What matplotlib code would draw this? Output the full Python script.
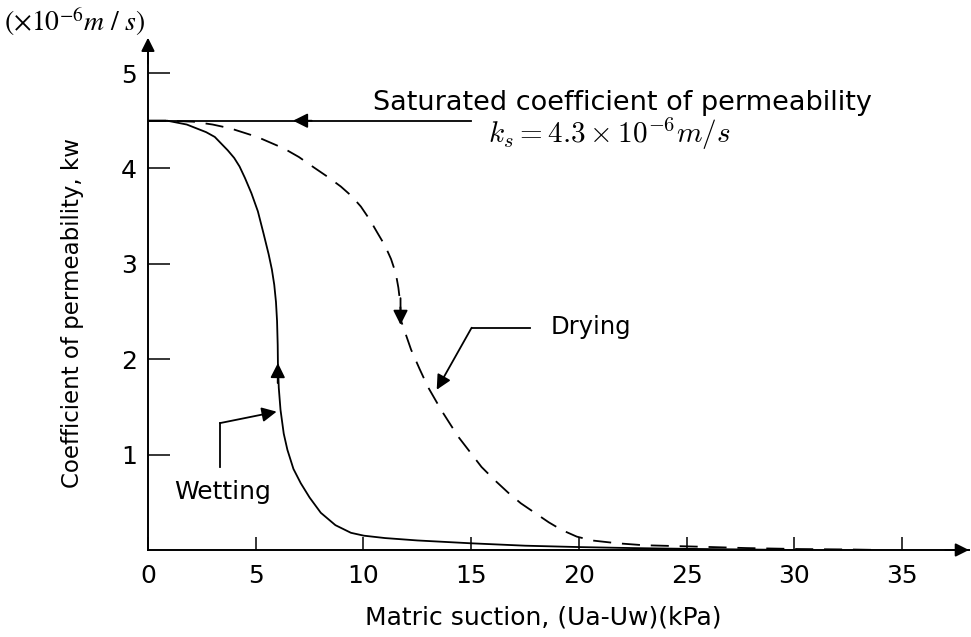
import matplotlib
matplotlib.use("Agg")
import matplotlib.pyplot as plt

# curves (x in kPa, y in 1e-6 m/s)
wet_x = [0, 0.9, 1.8, 2.7, 3.1, 3.4, 3.7, 4.0, 4.25, 4.5, 4.8, 5.1, 5.36, 5.6, 5.75, 5.86,
         5.94, 5.99, 6.02, 6.03, 6.07, 6.15, 6.3, 6.47, 6.75, 7.09, 7.5, 8.02, 8.7, 9.42,
         10.02, 11, 12.5, 15, 17.5, 20.1, 22.5, 25, 27.5, 30]
wet_y = [4.5, 4.5, 4.46, 4.38, 4.33, 4.26, 4.19, 4.11, 4.02, 3.90, 3.74, 3.55, 3.32, 3.10, 2.94, 2.78,
         2.60, 2.40, 2.15, 1.96, 1.70, 1.47, 1.22, 1.05, 0.85, 0.70, 0.55, 0.39, 0.26, 0.18,
         0.15, 0.125, 0.10, 0.07, 0.045, 0.03, 0.02, 0.012, 0.006, 0.0]

dry_x = [0, 1, 2.1, 3.0, 3.82, 5.07, 6.3, 7.0, 7.7, 8.35, 8.95, 9.45, 9.88, 10.3, 10.66, 11.0,
         11.28, 11.5, 11.62, 11.7, 11.75, 12.21, 12.6, 12.99, 13.6, 14.39, 15.48, 16.1, 16.72,
         17.3, 17.95, 18.6, 19.2, 19.9, 20.6, 21.8, 23, 25.5, 27.8, 30.2, 32.7, 34]
dry_y = [4.5, 4.5, 4.49, 4.46, 4.42, 4.33, 4.21, 4.12, 4.01, 3.91, 3.81, 3.71, 3.6, 3.46, 3.32, 3.19,
         3.05, 2.9, 2.75, 2.6, 2.4, 2.10, 1.9, 1.71, 1.47, 1.19, 0.87, 0.73, 0.60,
         0.49, 0.39, 0.29, 0.21, 0.14, 0.10, 0.07, 0.05, 0.035, 0.02, 0.01, 0.005, 0.0]

x_ticks = [0, 5, 10, 15, 20, 25, 30, 35]
y_ticks = [1, 2, 3, 4, 5]
ks = 4.5

plt.rcParams['font.family'] = ['DejaVu Sans']

fig = plt.figure(figsize=(9.71, 6.37), dpi=100)
ax = fig.add_axes([0.1524, 0.1366, 0.8455, 0.7937])
ax.set_xlim(0, 38.1)
ax.set_ylim(0, 5.3)

for s in ['top', 'right']:
    ax.spines[s].set_visible(False)
for s in ['left', 'bottom']:
    ax.spines[s].set_linewidth(1.4)

ax.set_xticks(x_ticks)
ax.set_yticks(y_ticks)
ax.tick_params(axis='y', direction='in', length=16, width=1.1, pad=8, labelsize=18)
ax.tick_params(axis='x', direction='in', length=9.5, width=1.1, pad=10, labelsize=18)

# axis arrow heads
ax.annotate('', xy=(38.1, 0), xytext=(37, 0), annotation_clip=False,
            arrowprops=dict(arrowstyle='-|>', mutation_scale=20, lw=1.4, color='k',
                            shrinkA=0, shrinkB=0))
ax.annotate('', xy=(0, 5.37), xytext=(0, 5.1), annotation_clip=False,
            arrowprops=dict(arrowstyle='-|>', mutation_scale=20, lw=1.4, color='k',
                            shrinkA=0, shrinkB=0))

ax.plot(wet_x, wet_y, color='k', lw=1.3)
ax.plot(dry_x, dry_y, color='k', lw=1.3, dashes=(10, 6))

# arrows on curves
arr = dict(arrowstyle='-|>', mutation_scale=22, lw=1.3, color='k', shrinkA=0, shrinkB=0)
ax.annotate('', xy=(6.03, 1.96), xytext=(6.02, 1.75), arrowprops=arr)
ax.annotate('', xy=(11.72, 2.36), xytext=(11.72, 2.64), arrowprops=arr)

# saturated line + label
ax.plot([0, 15], [ks, ks], color='k', lw=1.3)
ax.annotate('', xy=(6.73, ks), xytext=(7.6, ks), arrowprops=arr)
ax.text(10.44, 4.69, 'Saturated coefficient of permeability', fontsize=19.5,
        va='center', ha='left')
ax.text(15.78, 4.36, r'$k_s = 4.3 \times 10^{-6} m/s$', fontsize=21,
        va='center', ha='left', math_fontfamily='cm')

# wetting / drying callouts
ax.plot([3.34, 3.34], [0.87, 1.33], color='k', lw=1.3)
ax.annotate('', xy=(5.97, 1.45), xytext=(3.34, 1.33), arrowprops=arr)
ax.text(1.2, 0.61, 'Wetting', fontsize=18, va='center', ha='left')

ax.plot([17.73, 15.02], [2.33, 2.33], color='k', lw=1.3)
ax.annotate('', xy=(13.4, 1.68), xytext=(15.02, 2.33), arrowprops=arr)
ax.text(18.7, 2.34, 'Drying', fontsize=17.5, va='center', ha='left')

fig.text(0.004, 1 - 22 / 637, r'$(\times 10^{-6} m\ /\ s)$', fontsize=20,
         va='center', ha='left', math_fontfamily='stix')
fig.text(72 / 971, 1 - 313 / 637, 'Coefficient of permeability, kw',
         rotation=90, fontsize=16.5, va='center', ha='center')
fig.text(543 / 971, 1 - 617 / 637, 'Matric suction, (Ua-Uw)(kPa)',
         fontsize=18, va='center', ha='center')

fig.savefig('out.png', dpi=100)
